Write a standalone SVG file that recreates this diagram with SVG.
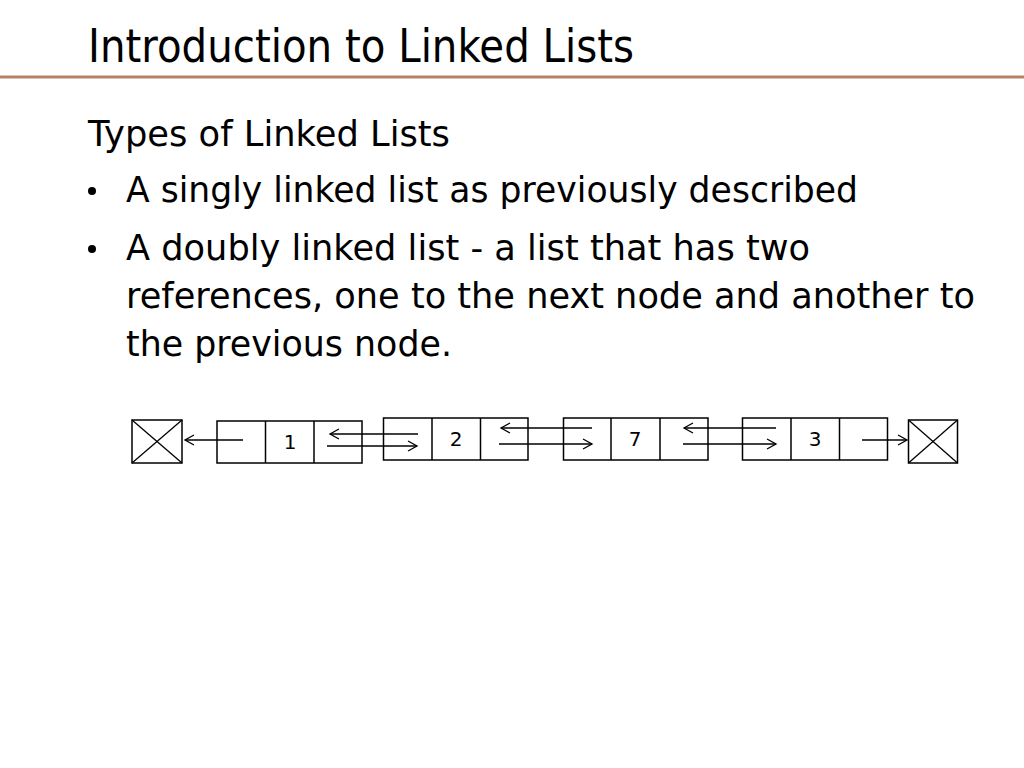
<svg xmlns="http://www.w3.org/2000/svg" width="1024" height="768" viewBox="0 0 1024 768">
<style>
.t{font-family:"DejaVu Sans","Liberation Sans",sans-serif;fill:#000}
.body{font-size:35px}
.box{fill:none;stroke:#000;stroke-width:1.5}
.ln{stroke:#000;stroke-width:1.3;fill:none}
.num{font-family:"DejaVu Sans","Liberation Sans",sans-serif;font-size:20px;text-anchor:middle;fill:#000}
</style>
<defs>
<marker id="ah" markerUnits="userSpaceOnUse" markerWidth="12" markerHeight="12" refX="10" refY="6" orient="auto">
<path d="M1,1 L10,6 L1,11" fill="none" stroke="#000" stroke-width="1.3"/>
</marker>
</defs>
<rect width="1024" height="768" fill="#fff"/>
<text class="t" x="88" y="62" font-size="46" textLength="546" lengthAdjust="spacingAndGlyphs">Introduction to Linked Lists</text>
<line x1="0" y1="77" x2="1024" y2="77" stroke="#b5836a" stroke-width="3"/>
<g id="text">
<text class="t body" x="88" y="146" textLength="362" lengthAdjust="spacingAndGlyphs">Types of Linked Lists</text>
<circle cx="92" cy="191" r="4" fill="#000"/>
<text class="t body" x="126" y="202" textLength="732" lengthAdjust="spacingAndGlyphs">A singly linked list as previously described</text>
<circle cx="92" cy="249" r="4" fill="#000"/>
<text class="t body" x="126" y="260" textLength="684" lengthAdjust="spacingAndGlyphs">A doubly linked list - a list that has two</text>
<text class="t body" x="126" y="308" textLength="849" lengthAdjust="spacingAndGlyphs">references, one to the next node and another to</text>
<text class="t body" x="126" y="356" textLength="326" lengthAdjust="spacingAndGlyphs">the previous node.</text>
</g>
<g id="null-left">
<rect class="box" x="132" y="420" width="50" height="43"/>
<line class="ln" x1="132" y1="420" x2="182" y2="463"/>
<line class="ln" x1="182" y1="420" x2="132" y2="463"/>
</g>
<g id="node-1">
<rect class="box" x="217" y="421" width="145" height="42"/>
<line class="box" x1="265.5" y1="421" x2="265.5" y2="463"/>
<line class="box" x1="314" y1="421" x2="314" y2="463"/>
<text class="num" x="290" y="449">1</text>
</g>
<g id="node-2">
<rect class="box" x="383.5" y="418" width="144.5" height="42"/>
<line class="box" x1="432" y1="418" x2="432" y2="460"/>
<line class="box" x1="480.5" y1="418" x2="480.5" y2="460"/>
<text class="num" x="456" y="446">2</text>
</g>
<g id="node-7">
<rect class="box" x="563.5" y="418" width="144.5" height="42"/>
<line class="box" x1="611" y1="418" x2="611" y2="460"/>
<line class="box" x1="660" y1="418" x2="660" y2="460"/>
<text class="num" x="635" y="446">7</text>
</g>
<g id="node-3">
<rect class="box" x="742.5" y="418" width="145" height="42"/>
<line class="box" x1="791" y1="418" x2="791" y2="460"/>
<line class="box" x1="839.5" y1="418" x2="839.5" y2="460"/>
<text class="num" x="815" y="446">3</text>
</g>
<g id="null-right">
<rect class="box" x="908.5" y="420" width="49" height="43"/>
<line class="ln" x1="908.5" y1="420" x2="957.5" y2="463"/>
<line class="ln" x1="957.5" y1="420" x2="908.5" y2="463"/>
</g>
<g id="connectors">
<line class="ln" x1="243" y1="440" x2="185" y2="440" marker-end="url(#ah)"/>
<line class="ln" x1="418" y1="434" x2="330" y2="434" marker-end="url(#ah)"/>
<line class="ln" x1="327" y1="446" x2="417" y2="446" marker-end="url(#ah)"/>
<line class="ln" x1="592" y1="428" x2="501" y2="428" marker-end="url(#ah)"/>
<line class="ln" x1="499" y1="444" x2="592" y2="444" marker-end="url(#ah)"/>
<line class="ln" x1="776" y1="428" x2="684" y2="428" marker-end="url(#ah)"/>
<line class="ln" x1="683" y1="444" x2="776" y2="444" marker-end="url(#ah)"/>
<line class="ln" x1="862" y1="440" x2="907" y2="440" marker-end="url(#ah)"/>
</g>
</svg>
